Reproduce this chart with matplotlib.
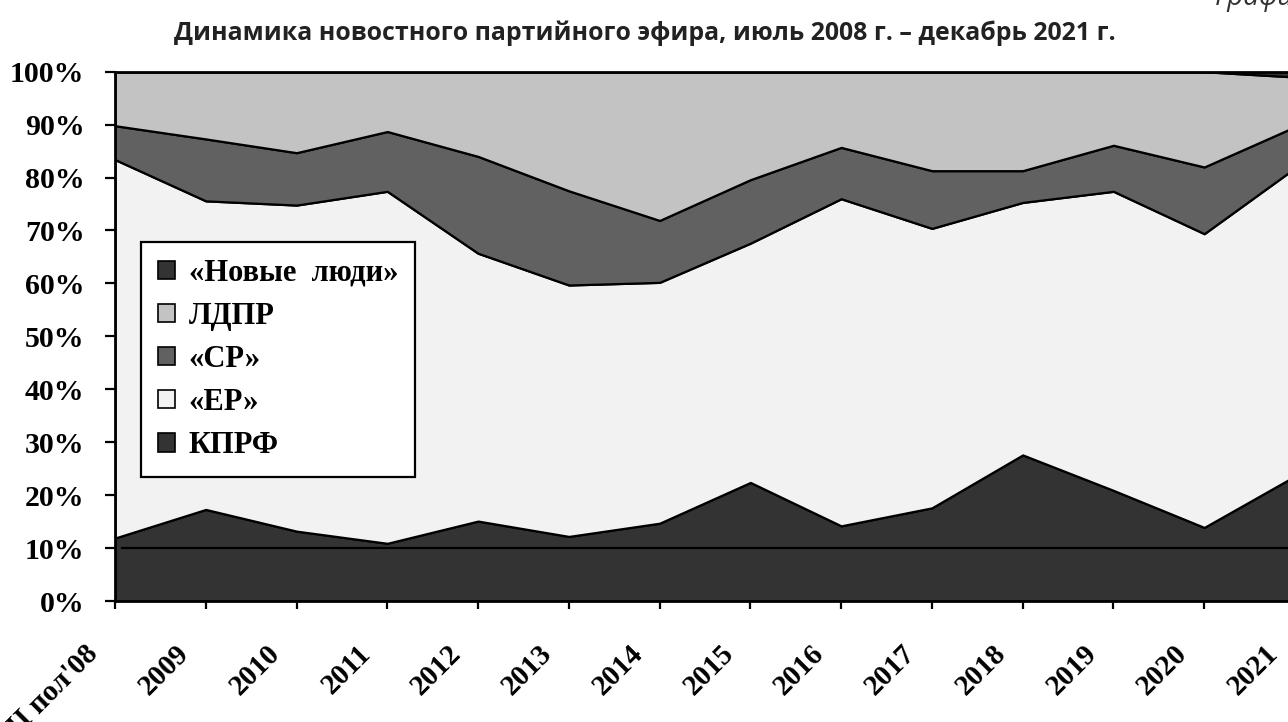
import numpy as np
import matplotlib.pyplot as plt
import matplotlib.transforms as mtransforms
from matplotlib.patches import Patch

# периоды
periods = ["II пол'08", '2009', '2010', '2011', '2012', '2013', '2014',
           '2015', '2016', '2017', '2018', '2019', '2020', '2021']

# доли партий, %
kprf = [11.9, 17.3, 13.2, 10.9, 15.1, 12.2, 14.7, 22.4, 14.2, 17.6, 27.6, 20.9, 13.9, 23.6]
er = [71.5, 58.3, 61.6, 66.5, 50.6, 47.5, 45.5, 45.2, 61.8, 52.8, 47.7, 56.5, 55.5, 58.2]
sr = [6.4, 11.7, 9.9, 11.3, 18.3, 17.8, 11.7, 12.0, 9.7, 10.9, 6.0, 8.7, 12.6, 7.8]
ldpr = [10.2, 12.7, 15.3, 11.3, 16.0, 22.5, 28.1, 20.4, 14.3, 18.7, 18.7, 13.9, 18.0, 9.4]
new_people = [0, 0, 0, 0, 0, 0, 0, 0, 0, 0, 0, 0, 0, 1.0]

names = ['КПРФ', '«ЕР»', '«СР»', 'ЛДПР', '«Новые  люди»']
colors = ['#333333', '#f2f2f2', '#616161', '#c3c3c3', '#333333']

W, H = 1288, 722
fig = plt.figure(figsize=(W / 100, H / 100), dpi=100)
ax = fig.add_axes([115 / W, (H - 601) / H, (1295 - 115) / W, (601 - 71.7) / H])

x = np.arange(len(periods))
ax.stackplot(x, kprf, er, sr, ldpr, new_people, colors=colors,
             edgecolor='black', linewidth=1.6)
ax.axhline(10, color='black', lw=1.6, xmin=0.006)

ax.set_xlim(0, len(periods) - 1)
ax.set_ylim(0, 100)

serif = ['Liberation Serif', 'DejaVu Serif']
ax.set_yticks(range(0, 101, 10))
ax.set_yticklabels([f'{v}%' for v in range(0, 101, 10)],
                   fontfamily=serif, fontweight='bold', fontsize=21.5)
ax.set_xticks(x)
ax.set_xticklabels(periods, rotation=45, ha='right', va='top',
                   rotation_mode='anchor', fontfamily=serif,
                   fontweight='bold', fontsize=21)
ax.tick_params(axis='y', length=7, width=1.6, pad=15)
ax.tick_params(axis='x', length=6, width=1.6, pad=12)
shift = mtransforms.ScaledTranslation(-22 / 72, -10 / 72, fig.dpi_scale_trans)
for lbl in ax.get_xticklabels():
    lbl.set_transform(lbl.get_transform() + shift)
for s in ax.spines.values():
    s.set_linewidth(2)
ax.spines['right'].set_visible(False)

handles = [Patch(facecolor=c, edgecolor='black', lw=1.2, label=n)
           for n, c in zip(names, colors)][::-1]
leg = ax.legend(handles=handles, loc='upper left',
                bbox_to_anchor=(26 / 1180, (529.3 - (242 - 71.7)) / 529.3),
                prop={'family': serif, 'weight': 'bold', 'size': 22},
                frameon=True, fancybox=False, framealpha=1, edgecolor='black',
                handlelength=0.56, handleheight=0.56, handletextpad=0.45,
                labelspacing=0.46, borderpad=0.55, borderaxespad=0)
leg.get_frame().set_linewidth(1.6)

fig.text(645 / W, 1 - 33 / H,
         'Динамика новостного партийного эфира, июль 2008 г. – декабрь 2021 г.',
         ha='center', va='center', fontfamily='Open Sans', fontweight='bold',
         fontsize=17.9, color='#222222')
fig.text(1215 / W, 1 - 5 / H, 'График', ha='left', va='baseline',
         fontfamily='Open Sans', style='italic', fontsize=20, color='#333333')

fig.savefig('out.png', dpi=100)
